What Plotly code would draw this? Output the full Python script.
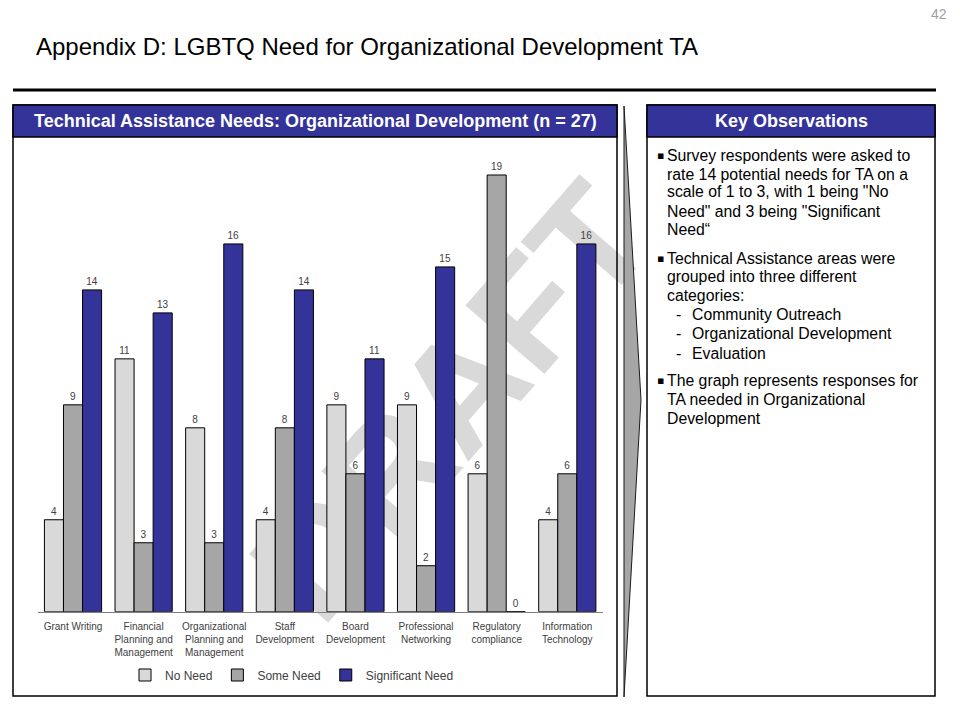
import plotly.graph_objects as go

# ---------------- data ----------------
categories = ["Grant Writing", "Financial Planning and Management",
              "Organizational Planning and Management", "Staff Development",
              "Board Development", "Professional Networking",
              "Regulatory compliance", "Information Technology"]
tick_labels = ["Grant Writing", "Financial<br>Planning and<br>Management",
               "Organizational<br>Planning and<br>Management", "Staff<br>Development",
               "Board<br>Development", "Professional<br>Networking",
               "Regulatory<br>compliance", "Information<br>Technology"]
series_names = ["No Need", "Some Need", "Significant Need"]
no_need = [4, 11, 8, 4, 9, 9, 6, 4]
some_need = [9, 3, 3, 8, 6, 2, 19, 6]
significant_need = [14, 13, 16, 14, 11, 15, 0, 16]

title_text = "Appendix D: LGBTQ Need for Organizational Development TA"
page_number = "42"
chart_header = "Technical Assistance Needs: Organizational Development (n = 27)"
obs_header = "Key Observations"
obs_lines = [
    ("b", "Survey respondents were asked to"),
    ("c", "rate 14 potential needs for TA on a"),
    ("c", "scale of 1 to 3, with 1 being \"No"),
    ("c", "Need\" and 3 being \"Significant"),
    ("c", "Need\u201c"),
    ("b", "Technical Assistance areas were"),
    ("c", "grouped into three different"),
    ("c", "categories:"),
    ("d", "Community Outreach"),
    ("d", "Organizational Development"),
    ("d", "Evaluation"),
    ("b", "The graph represents responses for"),
    ("c", "TA needed in Organizational"),
    ("c", "Development"),
]
obs_y = [155, 174, 192, 211, 229, 258, 276, 295, 314, 333, 353, 380, 399, 418]

colors = ["#D9D9D9", "#A6A6A6", "#333399"]
W, H = 960, 720
FONT = "Liberation Sans, Arial, sans-serif"


def px(x):
    return x / W


def py(y):
    return 1 - y / H


fig = go.Figure()
for name, vals, col in zip(series_names, [no_need, some_need, significant_need], colors):
    fig.add_trace(go.Bar(
        x=categories, y=vals, name=name,
        marker=dict(color=col, line=dict(color="#000000", width=1)),
        text=[str(v) for v in vals], textposition="outside",
        textfont=dict(size=10, color="#404040", family=FONT),
        cliponaxis=False,
    ))

shapes = []
# DRAFT watermark, drawn below the bars
shapes.append(dict(type="rect", xref="paper", yref="paper", layer="below",
                   x0=px(340), x1=px(540), y0=py(492), y1=py(292),
                   line=dict(width=0), fillcolor="rgba(0,0,0,0)",
                   label=dict(text="DRAFT", textangle=-49,
                              font=dict(size=152, color="#D9D9D9", family=FONT, weight="bold"),
                              textposition="middle center")))
shapes.append(dict(type="line", xref="paper", yref="paper",
                   x0=px(13), x1=px(936), y0=py(90), y1=py(90),
                   line=dict(color="#000000", width=3)))
for x0, x1 in [(13, 617), (647, 935)]:
    shapes.append(dict(type="rect", xref="paper", yref="paper",
                       x0=px(x0), x1=px(x1), y0=py(696), y1=py(105),
                       line=dict(color="#000000", width=1.5), fillcolor="rgba(0,0,0,0)"))
    shapes.append(dict(type="rect", xref="paper", yref="paper",
                       x0=px(x0), x1=px(x1), y0=py(137), y1=py(105),
                       line=dict(color="#000000", width=1.5), fillcolor="#333399"))
shapes.append(dict(type="path", xref="paper", yref="paper",
                   path=f"M{px(624)},{py(106)} L{px(641)},{py(400)} L{px(624)},{py(697)} Z",
                   fillcolor="#A6A6A6", line=dict(color="#1a1a1a", width=1)))

ann = []
ann.append(dict(text=title_text, x=px(34), y=py(47), xref="paper", yref="paper",
                xanchor="left", yanchor="middle", showarrow=False,
                font=dict(size=24, color="#000000", family=FONT)))
ann.append(dict(text=page_number, x=px(949), y=py(14), xref="paper", yref="paper",
                xanchor="right", yanchor="middle", showarrow=False,
                font=dict(size=14, color="#A0A0A0", family=FONT)))
ann.append(dict(text="<b>" + chart_header + "</b>", x=px(315), y=py(121), xref="paper", yref="paper",
                xanchor="center", yanchor="middle", showarrow=False,
                font=dict(size=18, color="#FFFFFF", family=FONT)))
ann.append(dict(text="<b>" + obs_header + "</b>", x=px(791), y=py(121), xref="paper", yref="paper",
                xanchor="center", yanchor="middle", showarrow=False,
                font=dict(size=18, color="#FFFFFF", family=FONT)))
for (kind, txt), yy in zip(obs_lines, obs_y):
    if kind == "b":
        ann.append(dict(text="\u25aa", x=px(660), y=py(yy), xref="paper", yref="paper",
                        xanchor="center", yanchor="middle", showarrow=False,
                        font=dict(size=11, color="#000000", family="DejaVu Sans")))
        tx = 665
    elif kind == "d":
        ann.append(dict(text="-", x=px(674), y=py(yy), xref="paper", yref="paper",
                        xanchor="left", yanchor="middle", showarrow=False,
                        font=dict(size=16, color="#000000", family=FONT)))
        tx = 690
    else:
        tx = 665
    ann.append(dict(text=txt, x=px(tx), y=py(yy), xref="paper", yref="paper",
                    xanchor="left", yanchor="middle", showarrow=False,
                    font=dict(size=15.8, color="#000000", family=FONT)))

fig.update_layout(
    width=W, height=H, autosize=False,
    margin=dict(l=0, r=0, t=0, b=0),
    paper_bgcolor="#FFFFFF", plot_bgcolor="rgba(0,0,0,0)",
    barmode="group", bargap=0.19, bargroupgap=0,
    font=dict(family=FONT, color="#404040"),
    showlegend=True,
    legend=dict(orientation="h", x=px(292), xanchor="center", y=py(675), yanchor="middle",
                font=dict(size=12, color="#404040", family=FONT),
                bgcolor="rgba(0,0,0,0)", itemwidth=30),
    xaxis=dict(domain=[px(37.7), px(602.6)], tickvals=categories, ticktext=tick_labels,
               showline=True, linecolor="#808080", linewidth=1, ticks="",
               ticklabelstandoff=5,
               tickfont=dict(size=10, color="#404040", family=FONT), showgrid=False,
               fixedrange=True),
    yaxis=dict(domain=[py(611.7), py(152)], range=[0, 20], visible=False, fixedrange=True),
    shapes=shapes, annotations=ann,
)

fig.write_html("out.html", config={"displayModeBar": False},
               post_script="document.body.style.margin='0';")
